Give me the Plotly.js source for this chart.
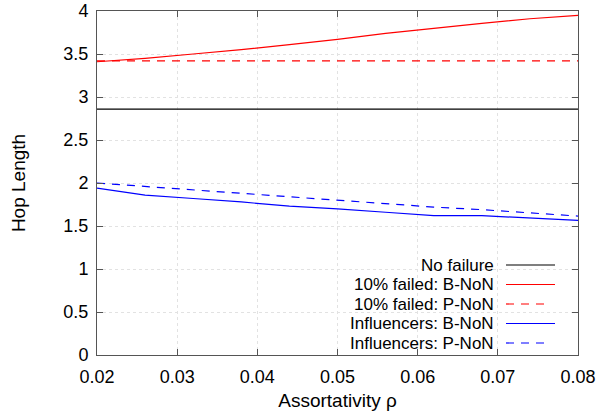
<!DOCTYPE html>
<html><head><meta charset="utf-8">
<script src="https://cdn.plot.ly/plotly-3.0.1.min.js"></script>
<style>html,body{margin:0;padding:0;background:#fff}#plot{width:616px;height:418px}</style>
</head><body><div id="plot"></div>
<script>
const rho = [0.02, 0.026, 0.032, 0.038, 0.044, 0.05, 0.056, 0.062, 0.068, 0.074, 0.08];
const noFailure = [2.86, 2.86, 2.86, 2.86, 2.86, 2.86, 2.86, 2.86, 2.86, 2.86, 2.86];
const failedBNoN = [3.41, 3.45, 3.50, 3.55, 3.61, 3.67, 3.74, 3.80, 3.855, 3.91, 3.95];
const failedPNoN = [3.42, 3.42, 3.42, 3.42, 3.42, 3.42, 3.42, 3.42, 3.42, 3.42, 3.42];
const inflBNoN = [1.94, 1.86, 1.82, 1.78, 1.73, 1.70, 1.66, 1.62, 1.62, 1.59, 1.565];
const inflPNoN = [2.00, 1.96, 1.925, 1.885, 1.845, 1.80, 1.76, 1.72, 1.69, 1.65, 1.615];
const seriesNames = ["No failure", "10% failed: B-NoN", "10% failed: P-NoN", "Influencers: B-NoN", "Influencers: P-NoN"];
const xTicks = [0.02, 0.03, 0.04, 0.05, 0.06, 0.07, 0.08];
const yTicks = [0, 0.5, 1, 1.5, 2, 2.5, 3, 3.5, 4];

const styles = [
  {color: '#000000', dash: 'solid'},
  {color: '#ff0000', dash: 'solid'},
  {color: '#ff0000', dash: '8px,7px'},
  {color: '#0000ff', dash: 'solid'},
  {color: '#0000ff', dash: '8px,7px'}
];
const ys = [noFailure, failedBNoN, failedPNoN, inflBNoN, inflPNoN];
const traces = ys.map((y, i) => ({
  x: rho, y: y, type: 'scatter', mode: 'lines', name: seriesNames[i],
  line: {color: styles[i].color, dash: styles[i].dash, width: 1.2},
  showlegend: false
}));

const font = {family: 'Liberation Sans, Arial, sans-serif', color: '#000'};
const annotations = [], shapes = [];
const rowY = [265, 284.5, 304, 323.5, 343];
const plotH = 344, plotL = 97, plotW = 481;
seriesNames.forEach((n, i) => {
  const py = (355 - rowY[i]) / plotH;
  annotations.push({xref: 'paper', yref: 'paper', x: (495 - plotL) / plotW, y: py,
    text: n, showarrow: false, xanchor: 'right', yanchor: 'middle',
    borderpad: 0,
    font: Object.assign({size: 17}, font)});
  const dashed = styles[i].dash !== 'solid';
  shapes.push({type: 'line', xref: 'paper', yref: 'paper',
    x0: (506 - plotL) / plotW, x1: ((dashed ? 549 : 555) - plotL) / plotW, y0: py, y1: py,
    line: {color: styles[i].color, width: 1.2, dash: styles[i].dash}});
});

const layout = {
  width: 616, height: 418,
  margin: {l: 97, r: 38, t: 11, b: 63},
  paper_bgcolor: '#fff', plot_bgcolor: '#fff',
  font: Object.assign({size: 18}, font),
  xaxis: {
    range: [0.02, 0.08], tickvals: xTicks, ticktext: xTicks.map(v => v.toFixed(2)),
    ticks: 'inside', ticklen: 6, tickcolor: '#555', showline: true, linecolor: '#555', linewidth: 1,
    mirror: 'ticks', showgrid: true, gridcolor: '#e2e2e2', griddash: 'dot', gridwidth: 1,
    zeroline: false, tickfont: Object.assign({size: 18}, font), ticklabelstandoff: 5,
    title: {text: 'Assortativity ρ', font: Object.assign({size: 19}, font), standoff: 8}
  },
  yaxis: {
    range: [0, 4], tickvals: yTicks, ticktext: yTicks.map(v => String(v)),
    ticks: 'inside', ticklen: 6, tickcolor: '#555', showline: true, linecolor: '#555', linewidth: 1,
    mirror: 'ticks', showgrid: true, gridcolor: '#e2e2e2', griddash: 'dot', gridwidth: 1,
    zeroline: false, tickfont: Object.assign({size: 18}, font), ticklabelstandoff: 4,
    title: {text: 'Hop Length', font: Object.assign({size: 19}, font), standoff: 32}
  },
  annotations: annotations, shapes: shapes, showlegend: false
};
Plotly.newPlot('plot', traces, layout, {staticPlot: true, displayModeBar: false});
</script></body></html>
